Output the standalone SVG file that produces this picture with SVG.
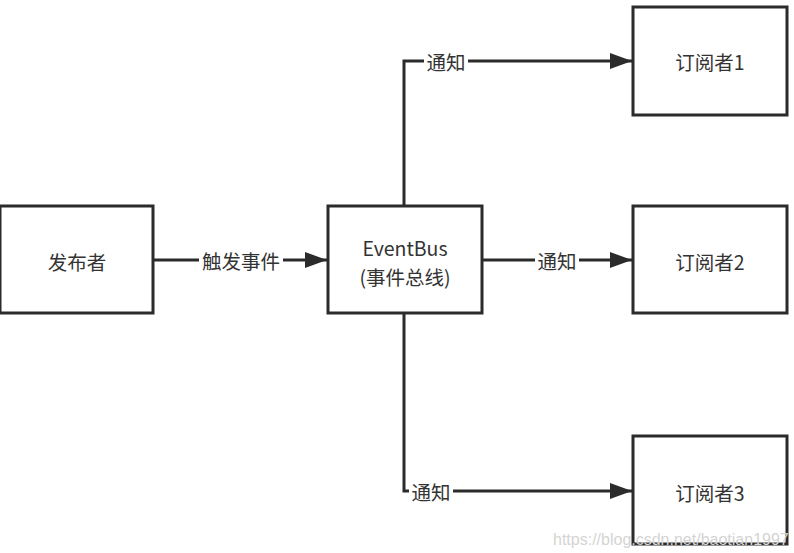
<svg xmlns="http://www.w3.org/2000/svg" width="794" height="553" viewBox="0 0 794 553">
<defs>
<style>
.box{fill:#fff;stroke:#2b2b2b;stroke-width:3}
.t{font-family:"Noto Sans CJK SC","Liberation Sans",sans-serif;font-size:19.5px;fill:#333;text-anchor:middle;dominant-baseline:central}
.line{fill:none;stroke:#2b2b2b;stroke-width:3}
.lbg{fill:#fff}
.wm{font-family:"Liberation Sans",sans-serif;font-size:16px;fill:#d4d4d4}
</style>
<marker id="arr" viewBox="0 0 22 16" refX="22" refY="8" markerWidth="22" markerHeight="16" markerUnits="userSpaceOnUse" orient="auto">
<path d="M0,0 L22,8 L0,16 Z" fill="#2b2b2b"/>
</marker>
</defs>
<rect width="794" height="553" fill="#fff"/>
<g id="connectors">
<path class="line" d="M153,260 L327,260" marker-end="url(#arr)"/>
<path class="line" d="M404,206 L404,61 L632,61" marker-end="url(#arr)"/>
<path class="line" d="M482,260 L632,260" marker-end="url(#arr)"/>
<path class="line" d="M404,313 L404,491 L632,491" marker-end="url(#arr)"/>
<rect class="lbg" x="199" y="248" width="84" height="24"/>
<text class="t" x="241" y="260">触发事件</text>
<rect class="lbg" x="424" y="49" width="44" height="24"/>
<text class="t" x="446" y="61">通知</text>
<rect class="lbg" x="535" y="248" width="44" height="24"/>
<text class="t" x="557" y="260">通知</text>
<rect class="lbg" x="409" y="479" width="44" height="24"/>
<text class="t" x="431" y="491">通知</text>
</g>
<g id="publisher">
<rect class="box" x="0" y="206" width="153" height="107"/>
<text class="t" x="77" y="261">发布者</text>
</g>
<g id="eventbus">
<rect class="box" x="328" y="206" width="154" height="107"/>
<text class="t" x="405" y="247">EventBus</text>
<text class="t" x="405" y="276">(事件总线)</text>
</g>
<g id="sub1">
<rect class="box" x="633" y="7" width="154" height="108"/>
<text class="t" x="710" y="61">订阅者1</text>
</g>
<g id="sub2">
<rect class="box" x="633" y="206" width="154" height="107"/>
<text class="t" x="710" y="261">订阅者2</text>
</g>
<g id="sub3">
<rect class="box" x="633" y="436" width="154" height="108"/>
<text class="t" x="710" y="492">订阅者3</text>
</g>
<text class="wm" x="553" y="545">https://blog.csdn.net/baotian1997</text>
</svg>
